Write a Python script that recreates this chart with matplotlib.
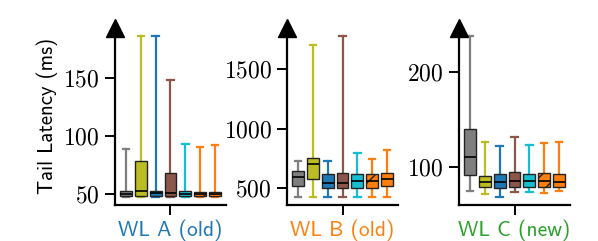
import matplotlib
matplotlib.use("Agg")
import matplotlib.pyplot as plt

plt.rcParams["axes.formatter.use_mathtext"] = True
plt.rcParams["hatch.linewidth"] = 1.0

colors = ["#7f7f7f", "#bcbd22", "#1f77b4", "#8c564b", "#17becf", "#ff7f0e", "#ff7f0e"]
hatches = ["", "", "", "", "", "//", ""]

workloads = ["WL A (old)", "WL B (old)", "WL C (new)"]
label_colors = ["#1f77b4", "#ff7f0e", "#2ca02c"]
yticks = [[50, 100, 150], [500, 1000, 1500], [100, 200]]

# box stats per workload, one entry per config
whislo = [
    [48, 48, 48, 48, 48, 48, 48],
    [429, 429, 429, 429, 429, 429, 429],
    [74.4, 70.9, 68.4, 73, 73, 72, 74.4],
]
q1 = [
    [48.5, 48.5, 48.5, 48.5, 48.5, 48.5, 48.5],
    [514, 580, 500, 500, 500, 500, 514],
    [91.3, 78.3, 77.9, 79, 79, 79, 79],
]
med = [
    [50, 52.5, 51, 51.5, 50.5, 50, 50],
    [594, 705, 545, 545, 557, 557, 574],
    [109.9, 83.9, 84.2, 85.3, 85, 85, 84.2],
]
q3 = [
    [53, 78.5, 53, 68, 52.5, 52, 52],
    [642, 756, 622, 630, 622, 622, 630],
    [139.7, 90.5, 92.3, 94.1, 92.3, 93, 92.3],
]
whishi = [
    [88.5, 186, 186, 148, 93, 91, 92.5],
    [727, 1702, 727, 1779, 798, 745, 821],
    [237.6, 125.7, 121.8, 130.9, 122.8, 124.6, 126.3],
]

fig = plt.figure(figsize=(5.98, 2.41), dpi=100)
lefts = [0.1923, 0.48, 0.7676]

for i in range(3):
    ax = fig.add_axes([lefts[i], 0.151, 0.1856, 0.733])
    stats = []
    for j in range(len(colors)):
        stats.append({"whislo": whislo[i][j], "q1": q1[i][j], "med": med[i][j],
                      "q3": q3[i][j], "whishi": whishi[i][j]})
    pos = list(range(len(colors)))
    bp = ax.bxp(stats, positions=pos, widths=0.8, patch_artist=True,
                showfliers=False, capwidths=0.45)
    for j, box in enumerate(bp["boxes"]):
        box.set_facecolor(colors[j])
        box.set_edgecolor("#222222")
        box.set_linewidth(1.0)
        box.set_hatch(hatches[j])
        box.set_zorder(3)
    for j, m in enumerate(bp["medians"]):
        m.set_color("black")
        m.set_linewidth(1.2)
        m.set_zorder(4)
    for j in range(len(colors)):
        for w in bp["whiskers"][2 * j:2 * j + 2]:
            w.set_color(colors[j])
            w.set_linewidth(1.6)
        for c in bp["caps"][2 * j:2 * j + 2]:
            c.set_color(colors[j])
            c.set_linewidth(1.6)

    ax.set_xlim(-0.75, 6.75)
    ax.set_yticks(yticks[i])
    ax.set_xticks([3])
    ax.set_xticklabels([""])
    ax.set_xlabel(workloads[i], color=label_colors[i], fontfamily="cmss10",
                  fontsize=15.5, labelpad=0)
    ax.spines["top"].set_visible(False)
    ax.spines["right"].set_visible(False)
    ax.spines["left"].set_linewidth(1.6)
    ax.spines["bottom"].set_linewidth(1.6)
    ax.tick_params(length=7, width=1.4, labelsize=17, pad=4,
                   labelfontfamily="cmr10")
    ax.plot(0, 1, "^k", ms=13, transform=ax.transAxes, clip_on=False)
    if i == 0:
        ax.set_ylabel("Tail Latency (ms)", fontfamily="cmss10", fontsize=15)

fig.savefig("out.png", dpi=100)
